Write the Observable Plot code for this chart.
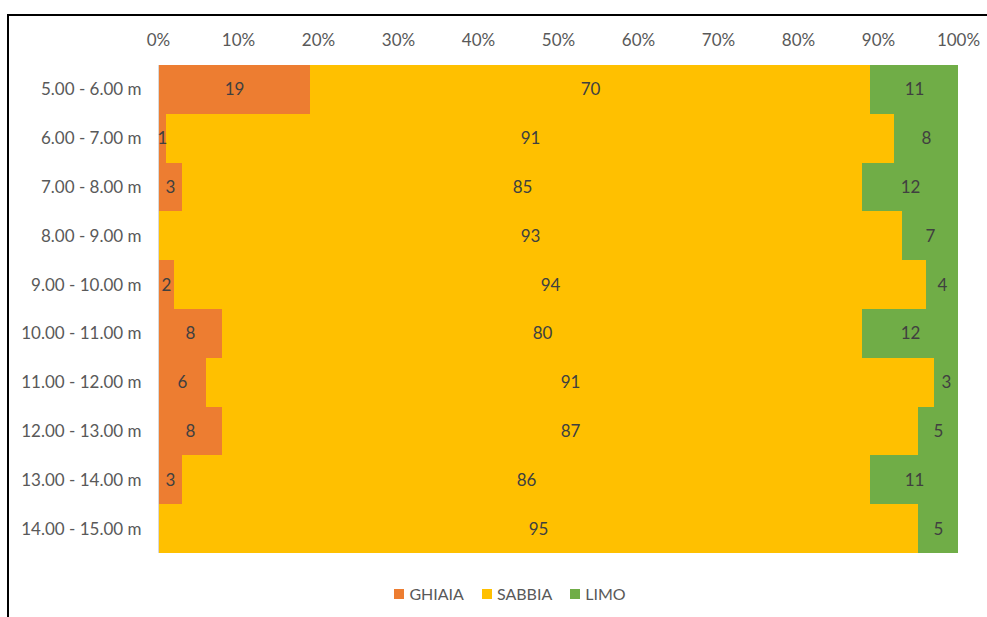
<!DOCTYPE html>
<html>
<head>
<meta charset="utf-8">
<script src="https://cdn.jsdelivr.net/npm/d3@7"></script>
<script src="https://cdn.jsdelivr.net/npm/@observablehq/plot@0.6"></script>
<style>
  html, body { margin: 0; padding: 0; background: #fff; }
  body { width: 987px; height: 617px; position: relative; overflow: hidden; font-family: Lato, "Open Sans", sans-serif; }
  #frame { position: absolute; left: 7px; top: 14px; width: 1200px; height: 800px; border-left: 2px solid #000; border-top: 2px solid #000; }
  #chart { position: absolute; left: 0; top: 0; }
  #legend { position: absolute; left: 2px; top: 584px; width: 1016px; display: flex; justify-content: center; gap: 18px; font-size: 16px; color: #595959; }
  #legend .item { display: flex; align-items: center; gap: 5px; }
  #legend .sw { width: 10px; height: 10px; display: inline-block; }
</style>
</head>
<body>
<div id="frame"></div>
<div id="chart"></div>
<div id="legend"></div>
<script>
const depths = ["5.00 - 6.00 m","6.00 - 7.00 m","7.00 - 8.00 m","8.00 - 9.00 m","9.00 - 10.00 m","10.00 - 11.00 m","11.00 - 12.00 m","12.00 - 13.00 m","13.00 - 14.00 m","14.00 - 15.00 m"];
const types = ["GHIAIA","SABBIA","LIMO"];
const colors = ["#ED7D31","#FFC000","#70AD47"];
const ghiaia = [19,1,3,0,2,8,6,8,3,0];
const sabbia = [70,91,85,93,94,80,91,87,86,95];
const limo = [11,8,12,7,4,12,3,5,11,5];
const xTicks = [0,10,20,30,40,50,60,70,80,90,100];

const series = [ghiaia, sabbia, limo];
const data = [];
depths.forEach((d, i) => {
  types.forEach((t, j) => data.push({depth: d, type: t, value: series[j][i]}));
});

const chart = Plot.plot({
  width: 987,
  height: 570,
  marginLeft: 158,
  marginRight: 29,
  marginTop: 65,
  marginBottom: 17,
  style: {fontFamily: "Lato, 'Open Sans', sans-serif", fontSize: "17px", color: "#595959", background: "transparent"},
  x: {domain: [0, 100], label: null},
  y: {domain: depths, padding: 0, round: false, label: null},
  color: {domain: types, range: colors},
  marks: [
    Plot.barX(data, Plot.stackX({x: "value", y: "depth", fill: "type", z: "type", order: types, shapeRendering: "crispEdges"})),
    Plot.ruleX([0], {stroke: "#d9d9d9"}),
    Plot.text(data, Plot.stackX({x: "value", y: "depth", z: "type", order: types,
      text: d => d.value > 0 ? String(d.value) : "", fill: "#404040", fontSize: 17})),
    Plot.axisX({anchor: "top", ticks: xTicks, tickFormat: d => d + "%", tickSize: 0, tickPadding: 20, fill: "#595959", fontSize: 17}),
    Plot.axisY({anchor: "left", tickSize: 0, tickPadding: 17, fill: "#595959", fontSize: 17})
  ]
});
document.getElementById("chart").appendChild(chart);

const legend = document.getElementById("legend");
types.forEach((t, j) => {
  const it = document.createElement("div");
  it.className = "item";
  const sw = document.createElement("span");
  sw.className = "sw";
  sw.style.background = colors[j];
  const lb = document.createElement("span");
  lb.textContent = t;
  it.appendChild(sw); it.appendChild(lb);
  legend.appendChild(it);
});
</script>
</body>
</html>
